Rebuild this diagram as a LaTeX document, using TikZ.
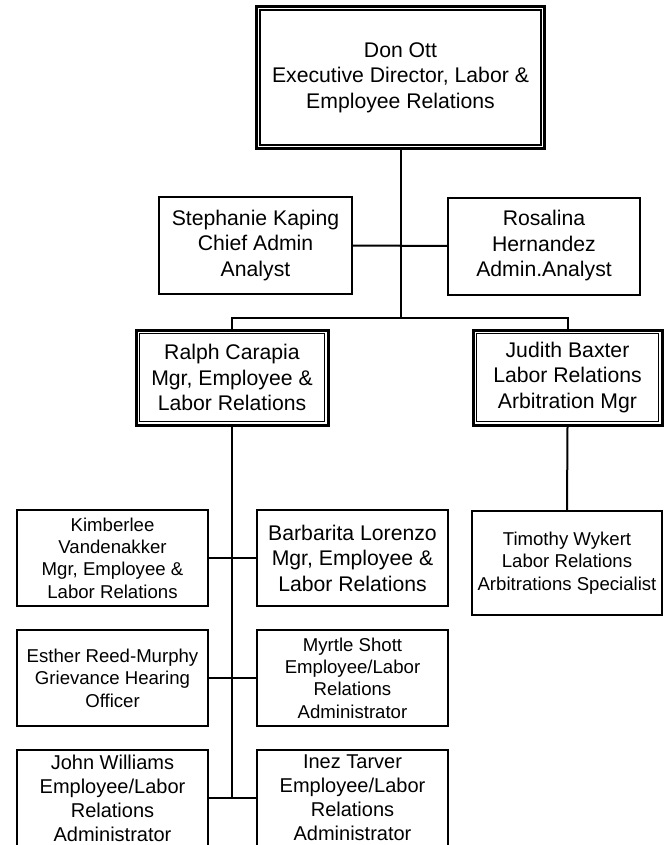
\documentclass[tikz,border=0pt]{standalone}
\usepackage{fontspec}
\setmainfont{Liberation Sans}
\begin{document}
\begin{tikzpicture}[x=1pt,y=-1pt,
  box/.style={draw,line width=2pt,align=center,inner sep=0pt,
    minimum width=191pt,minimum height=96pt},
  big/.style={font=\fontsize{21.2}{25.5}\selectfont},
  small/.style={font=\fontsize{18.6}{22.4}\selectfont},
  mid/.style={font=\fontsize{20}{24}\selectfont},
  dbl/.style={line width=3pt},
  inner/.style={line width=1.5pt},
  conn/.style={line width=2pt}]
\useasboundingbox (0,0) rectangle (664,845);
\clip (0,0) rectangle (664,845);
% nodes
\node[box,dbl,big,minimum width=288pt,minimum height=142pt] (don) at (400.5,77.5)
  {Don Ott\\Executive Director, Labor \&\\Employee Relations};
\node[box,big,minimum width=193pt,minimum height=97pt] (steph) at (255.5,245.5)
  {Stephanie Kaping\\Chief Admin\\Analyst};
\node[box,big,minimum width=192pt,minimum height=97pt] (rosa) at (544,246)
  {Rosalina\\Hernandez\\Admin.Analyst};
\node[box,dbl,big,minimum width=192pt,minimum height=95pt] (ralph) at (232,377.5)
  {Ralph Carapia\\Mgr, Employee \&\\Labor Relations};
\node[box,dbl,big,minimum width=189pt,minimum height=95pt] (judith) at (567.5,377.5)
  {Judith Baxter\\Labor Relations\\Arbitration Mgr};
\node[box,small,minimum width=190pt,minimum height=104pt] (tim) at (567,563)
  {Timothy Wykert\\Labor Relations\\Arbitrations Specialist};
\node[box,small] (kim) at (112.5,558)
  {Kimberlee\\Vandenakker\\Mgr, Employee \&\\Labor Relations};
\node[box,big] (barb) at (352.5,558)
  {Barbarita Lorenzo\\Mgr, Employee \&\\Labor Relations};
\node[box,small] (esther) at (112.5,678)
  {Esther Reed-Murphy\\Grievance Hearing\\Officer};
\node[box,small] (myrtle) at (352.5,678)
  {Myrtle Shott\\Employee/Labor\\Relations\\Administrator};
\node[box,mid] (john) at (112.5,798)
  {John Williams\\Employee/Labor\\Relations\\Administrator};
\node[box,mid] (inez) at (352.5,798)
  {Inez Tarver\\Employee/Labor\\Relations\\Administrator};
% inner borders of double boxes
\foreach \n in {don,ralph,judith}
  \draw[inner] ([shift={(5pt,-5pt)}]\n.north west) rectangle ([shift={(-5pt,5pt)}]\n.south east);
% connectors
\coordinate (branch) at (400.5,318);
\coordinate (bottom) at (232,798);
\draw[conn] (don.south) -- (branch);
\draw[conn] (steph.east) -- (rosa.west);
\draw[conn] (ralph.north) |- (branch) -| (judith.north);
\draw[conn] (ralph.south) -- (bottom);
\draw[conn] (kim.east) -- (barb.west);
\draw[conn] (esther.east) -- (myrtle.west);
\draw[conn] (john.east) -- (inez.west);
\draw[conn] (judith.south) -- (tim.north);
\end{tikzpicture}
\end{document}
